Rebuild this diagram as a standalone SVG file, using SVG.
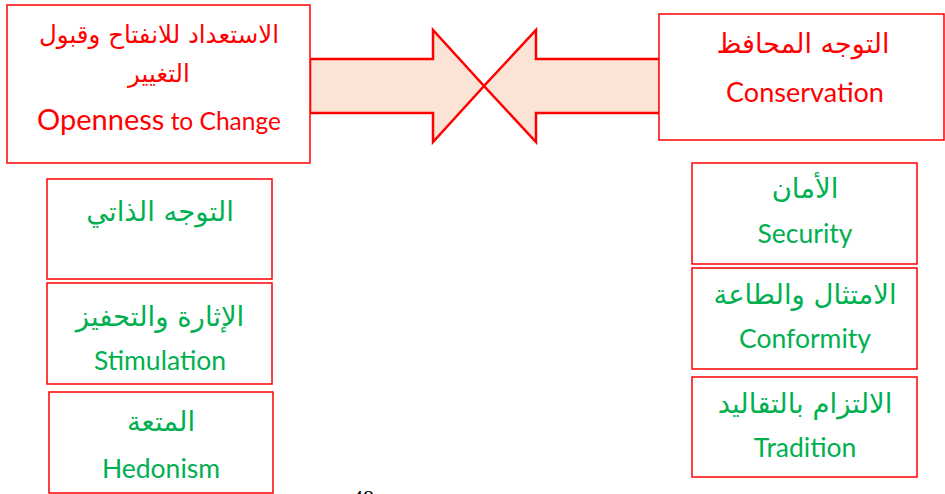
<svg xmlns="http://www.w3.org/2000/svg" width="945" height="494" viewBox="0 0 945 494">
<style>
.box{fill:#ffffff;stroke:#ff0000;stroke-width:1.5}
.arrow{fill:#fbe4d5;stroke:#ff0000;stroke-width:2.5;stroke-linejoin:miter}
.ar{font-family:"DejaVu Sans","Liberation Sans",sans-serif;text-anchor:middle}
.en{font-family:Lato,"Liberation Sans",sans-serif;text-anchor:middle}
.red{fill:#ff0000}
.green{fill:#00b050}
.ga{font-size:27.5px}
.ge{font-size:26.5px}
</style>
<rect width="945" height="494" fill="#ffffff"/>
<g id="connectors">
<polygon class="arrow" points="310,59 433,59 433,30 484,86 433,142 433,113 310,113"/>
<polygon class="arrow" points="660,59 536,59 536,30 484,86 536,142 536,113 660,113"/>
</g>
<g id="openness">
<rect class="box" x="7" y="5" width="303" height="158"/>
<text class="ar red" x="159" y="43" font-size="24.5">الاستعداد للانفتاح وقبول</text>
<text class="ar red" x="159" y="82" font-size="24.5">التغيير</text>
<text class="en red" x="159" y="130"><tspan font-size="29">Openness</tspan><tspan font-size="24.5"> to Change</tspan></text>
</g>
<g id="conservation">
<rect class="box" x="659" y="14" width="285" height="126"/>
<text class="ar red" x="803" y="53" font-size="27">التوجه المحافظ</text>
<text class="en red" x="805" y="102" font-size="27">Conservation</text>
</g>
<g id="self-direction">
<rect class="box" x="47" y="179" width="225" height="100"/>
<text class="ar green ga" x="160" y="221">التوجه الذاتي</text>
</g>
<g id="stimulation">
<rect class="box" x="47" y="283" width="225" height="101"/>
<text class="ar green ga" x="160" y="326">الإثارة والتحفيز</text>
<text class="en green ge" x="160" y="370">Stimulation</text>
</g>
<g id="hedonism">
<rect class="box" x="49" y="392" width="224" height="101"/>
<text class="ar green ga" x="161" y="431">المتعة</text>
<text class="en green ge" x="161" y="478">Hedonism</text>
</g>
<g id="security">
<rect class="box" x="692" y="163" width="225" height="101"/>
<text class="ar green ga" x="805" y="198">الأمان</text>
<text class="en green ge" x="805" y="243">Security</text>
</g>
<g id="conformity">
<rect class="box" x="692" y="268" width="225" height="101"/>
<text class="ar green ga" x="805" y="304">الامتثال والطاعة</text>
<text class="en green ge" x="805" y="348">Conformity</text>
</g>
<g id="tradition">
<rect class="box" x="692" y="377" width="225" height="100"/>
<text class="ar green ga" x="805" y="413">الالتزام بالتقاليد</text>
<text class="en green ge" x="805" y="457">Tradition</text>
</g>
<text x="352" y="505" font-family="Liberation Serif,serif" font-size="22" fill="#000000">48</text>
</svg>
